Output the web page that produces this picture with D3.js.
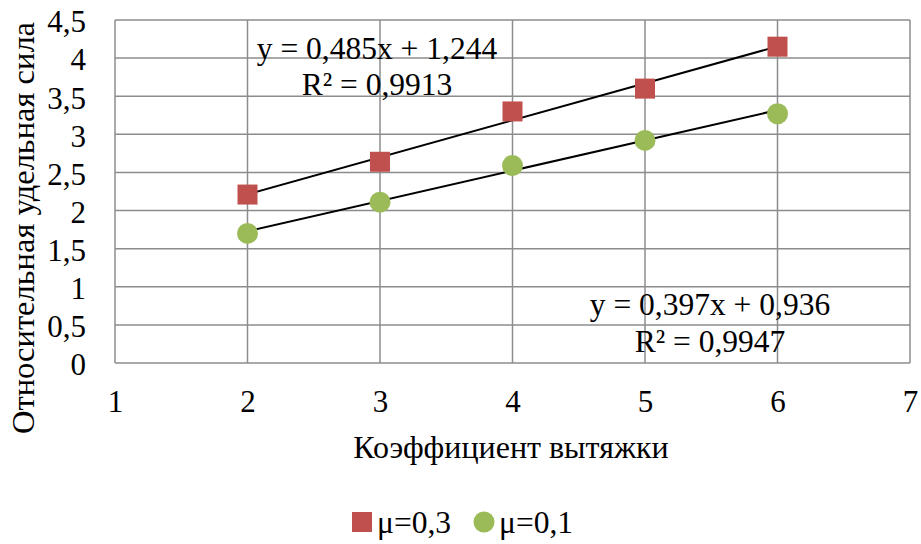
<!DOCTYPE html>
<html><head><meta charset="utf-8">
<script src="https://cdn.jsdelivr.net/npm/d3@7"></script>
<style>body{margin:0;background:#fff}svg{display:block}</style>
</head><body><div id="c"></div>
<script>
const xValues = [2, 3, 4, 5, 6];
const seriesNames = ["μ=0,3", "μ=0,1"];
const mu03 = [2.21, 2.64, 3.30, 3.60, 4.15];
const mu01 = [1.70, 2.11, 2.59, 2.92, 3.27];
const trendSlopes = [0.485, 0.397];
const trendIntercepts = [1.244, 0.936];
const trendLabels = [["y = 0,485x + 1,244", "R² = 0,9913"], ["y = 0,397x + 0,936", "R² = 0,9947"]];
const xTicks = [1, 2, 3, 4, 5, 6, 7];
const yTicks = [0, 0.5, 1, 1.5, 2, 2.5, 3, 3.5, 4, 4.5];
const colors = ["#C0504D", "#9BBB59"];

const W = 921, H = 544;
const m = {left: 115, right: 11, top: 20, bottom: 181};
const svg = d3.select("#c").append("svg").attr("width", W).attr("height", H)
  .style("font-family", '"Liberation Serif"');
const x = d3.scaleLinear().domain([1, 7]).range([m.left, W - m.right]);
const y = d3.scaleLinear().domain([0, 4.5]).range([H - m.bottom, m.top]);
const fmt = d => String(d).replace(".", ",");
const setFont = (sel, size) => sel.style("font-family", '"Liberation Serif"').style("font-size", size + "px").style("fill", "#000");

// grid
const g = svg.append("g");
g.selectAll("line.h").data(yTicks).join("line")
  .attr("x1", x(1)).attr("x2", x(7)).attr("y1", d => y(d)).attr("y2", d => y(d))
  .attr("stroke", "#8c8c8c").attr("stroke-width", 1.5);
g.selectAll("line.v").data(xTicks).join("line")
  .attr("y1", y(0)).attr("y2", y(4.5)).attr("x1", d => x(d)).attr("x2", d => x(d))
  .attr("stroke", "#8c8c8c").attr("stroke-width", 1.5);

// axes labels via d3 axes
const yAxis = svg.append("g").attr("transform", `translate(${m.left},0)`)
  .call(d3.axisLeft(y).tickValues(yTicks).tickFormat(fmt).tickSize(0).tickPadding(29));
const xAxis = svg.append("g").attr("transform", `translate(0,${y(0)})`)
  .call(d3.axisBottom(x).tickValues(xTicks).tickFormat(fmt).tickSize(0).tickPadding(27));
[yAxis, xAxis].forEach(a => {
  a.attr("font-family", null).attr("font-size", null);
  a.select(".domain").remove();
  setFont(a.selectAll("text"), 31);
});
yAxis.selectAll("text").attr("dy", "0.38em");

// trendlines
[mu03, mu01].forEach((vals, i) => {
  const x0 = xValues[0], x1 = xValues[xValues.length - 1];
  svg.append("line")
    .attr("x1", x(x0)).attr("y1", y(trendSlopes[i] * x0 + trendIntercepts[i]))
    .attr("x2", x(x1)).attr("y2", y(trendSlopes[i] * x1 + trendIntercepts[i]))
    .attr("stroke", "#000").attr("stroke-width", 2);
});

// markers
svg.append("g").selectAll("rect").data(xValues.map((d, i) => [d, mu03[i]])).join("rect")
  .attr("x", d => x(d[0]) - 10).attr("y", d => y(d[1]) - 10).attr("width", 20).attr("height", 20)
  .attr("fill", colors[0]);
svg.append("g").selectAll("circle").data(xValues.map((d, i) => [d, mu01[i]])).join("circle")
  .attr("cx", d => x(d[0])).attr("cy", d => y(d[1])).attr("r", 10.5)
  .attr("fill", colors[1]);

// trend labels
const labelPos = [[377, 59, 95], [710, 315, 352]];
trendLabels.forEach((lines, i) => {
  lines.forEach((t, j) => {
    setFont(svg.append("text").attr("x", labelPos[i][0]).attr("y", labelPos[i][1 + j])
      .attr("text-anchor", "middle"), 31.5).text(t);
  });
});

// axis titles
setFont(svg.append("text").attr("x", 511).attr("y", 458).attr("text-anchor", "middle"), 32)
  .text("Коэффициент вытяжки");
setFont(svg.append("text").attr("transform", "translate(34,228) rotate(-90)").attr("text-anchor", "middle"), 32.5)
  .text("Относительная удельная сила");

// legend
const lg = svg.append("g");
lg.append("rect").attr("x", 352).attr("y", 512).attr("width", 20).attr("height", 20).attr("fill", colors[0]);
setFont(lg.append("text").attr("x", 377).attr("y", 533), 31.5).text(seriesNames[0]);
lg.append("circle").attr("cx", 484).attr("cy", 522).attr("r", 10.5).attr("fill", colors[1]);
setFont(lg.append("text").attr("x", 499).attr("y", 533), 31.5).text(seriesNames[1]);
</script></body></html>
